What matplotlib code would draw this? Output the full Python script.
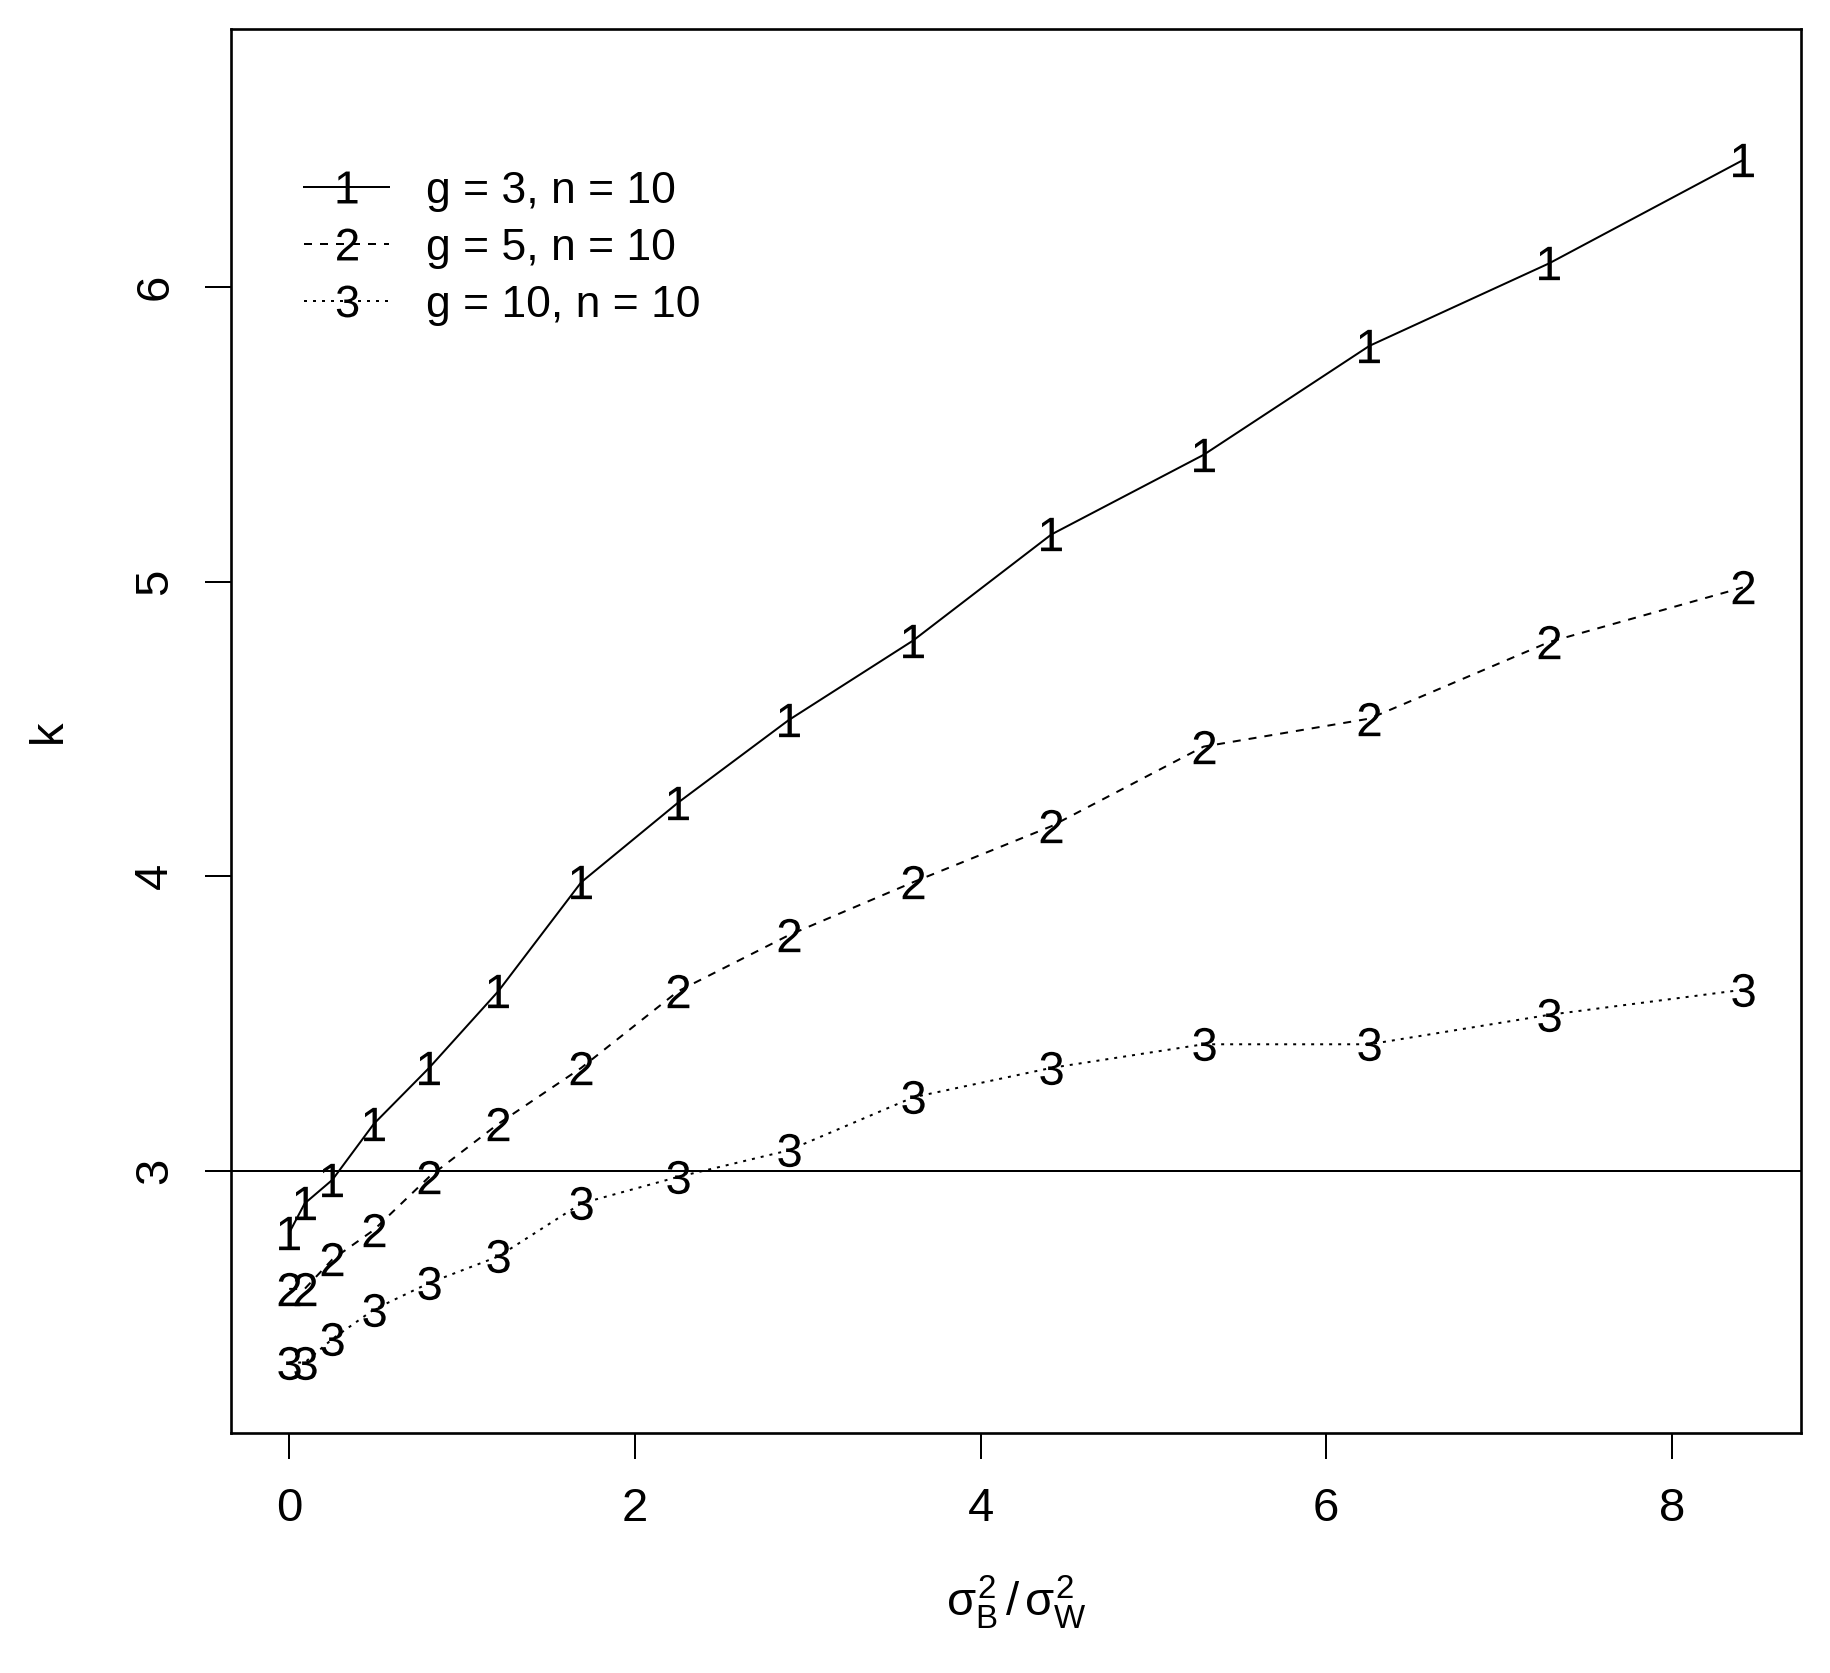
import matplotlib
matplotlib.use('Agg')
import matplotlib.pyplot as plt
from matplotlib.lines import Line2D


# sigma_B^2 / sigma_W^2 values
ratio = [0, 0.09, 0.25, 0.49, 0.81, 1.21, 1.69, 2.25, 2.89, 3.61, 4.41, 5.29, 6.25, 7.29, 8.41]

# k for each design
k_g3 = [2.79, 2.89, 2.97, 3.16, 3.35, 3.61, 3.98, 4.25, 4.53, 4.80, 5.16, 5.43, 5.80, 6.08, 6.43]
k_g5 = [2.60, 2.60, 2.70, 2.80, 2.98, 3.16, 3.35, 3.61, 3.80, 3.98, 4.17, 4.44, 4.535, 4.795, 4.98]
k_g10 = [2.35, 2.35, 2.43, 2.53, 2.62, 2.71, 2.89, 2.98, 3.07, 3.25, 3.35, 3.43, 3.43, 3.53, 3.615]

labels = ['g = 3, n = 10', 'g = 5, n = 10', 'g = 10, n = 10']
symbols = ['1', '2', '3']
styles = ['-', (0, (4, 4)), (0, (1.5, 3))]

x_ticks = [0, 2, 4, 6, 8]
y_ticks = [3, 4, 5, 6]

plt.rcParams['font.family'] = ['Liberation Sans', 'DejaVu Sans']
plt.rcParams['mathtext.fontset'] = 'custom'
plt.rcParams['mathtext.rm'] = 'Liberation Sans'
plt.rcParams['mathtext.it'] = 'Liberation Sans'
plt.rcParams['mathtext.bf'] = 'Liberation Sans'

FS = 34
LW = 1.44


def main():
    fig = plt.figure(figsize=(18.31, 16.73), dpi=100)
    ax = fig.add_axes([231 / 1831, 1 - 1433 / 1673, (1801 - 231) / 1831, (1433 - 29) / 1673])

    handles = []
    for ys, sym, ls, lab in zip([k_g3, k_g5, k_g10], symbols, styles, labels):
        ax.plot(ratio, ys, color='black', linestyle=ls, linewidth=LW,
                marker='$' + sym + '$', markersize=24, markeredgewidth=0,
                markerfacecolor='black')
        handles.append(Line2D([], [], color='black', linestyle=ls, linewidth=LW,
                              marker='$' + sym + '$', markersize=23, markeredgewidth=0,
                              markerfacecolor='black', label=lab))

    ax.axhline(3, color='black', linewidth=LW)

    ax.set_xlim(-0.3364, 8.7464)
    ax.set_ylim(2.111, 6.875)
    ax.set_xticks(x_ticks)
    ax.set_yticks(y_ticks)
    ax.tick_params(axis='both', direction='out', length=18.7, width=1.44,
                   labelsize=FS, pad=20)
    ax.tick_params(axis='y', labelrotation=90)
    for lbl in ax.get_yticklabels():
        lbl.set_va('center')
    for sp in ax.spines.values():
        sp.set_linewidth(1.9)

    ax.set_xlabel(r'$\sigma_B^2\,/\,\sigma_W^2$', fontsize=FS, labelpad=31)
    ax.set_ylabel('k', fontsize=FS, labelpad=45)

    ax.legend(handles=handles, loc='upper left', bbox_to_anchor=(0.0465, 0.899),
              frameon=False, fontsize=32, handlelength=1.92, handletextpad=0.83,
              labelspacing=0.36, borderpad=0, borderaxespad=0, numpoints=1)

    fig.savefig('out.png', dpi=100)


if __name__ == '__main__':
    main()
